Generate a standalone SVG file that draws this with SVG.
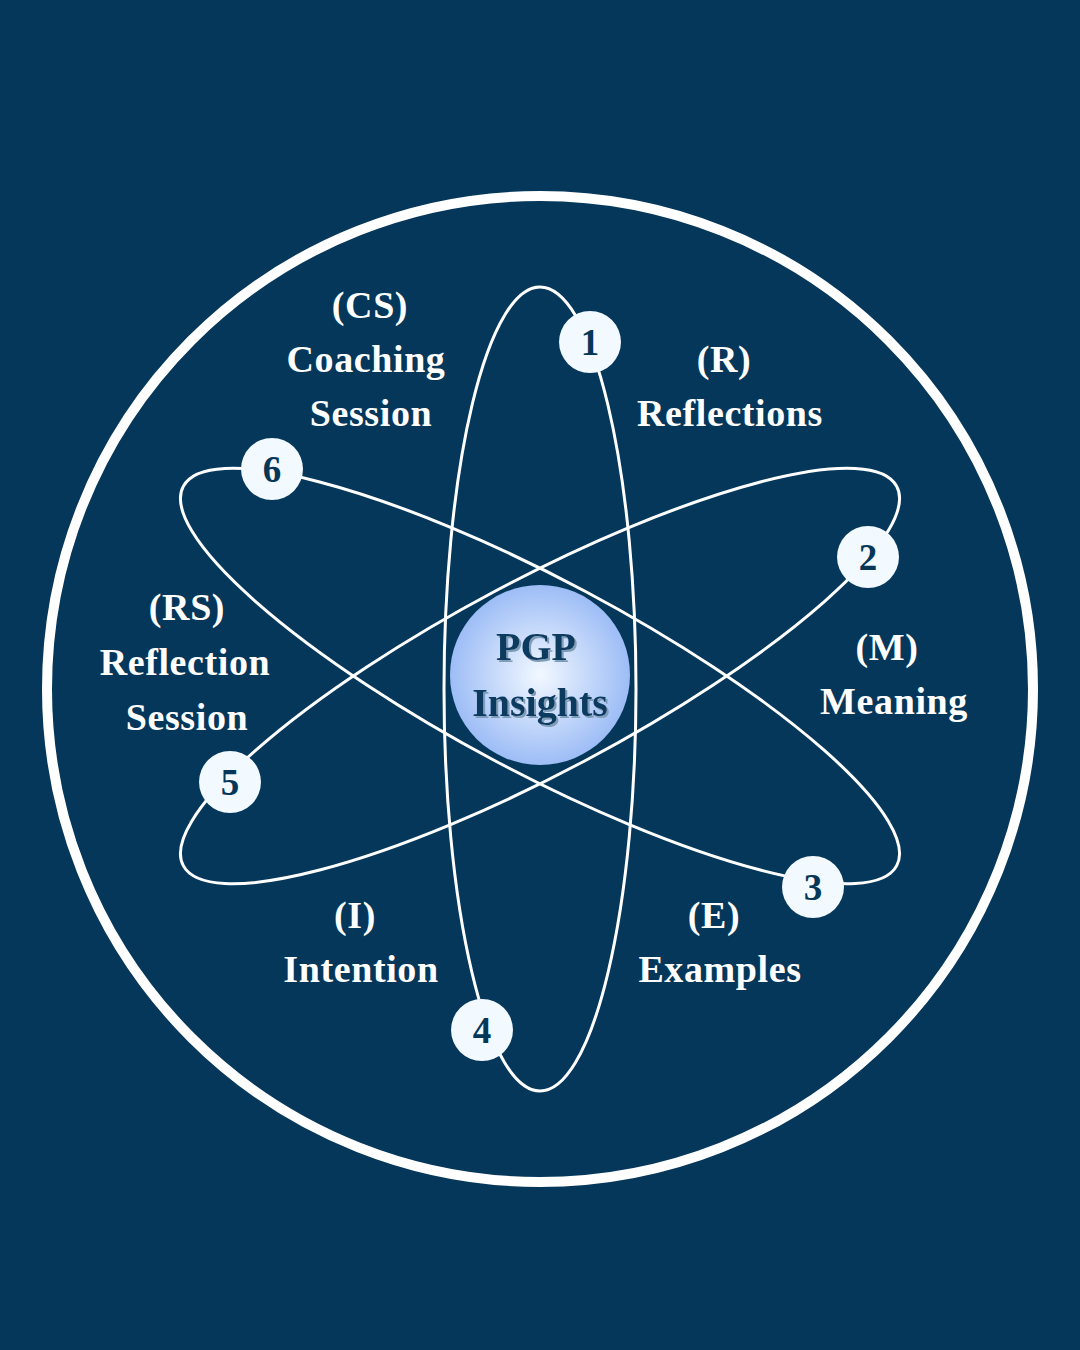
<svg xmlns="http://www.w3.org/2000/svg" width="1080" height="1350" viewBox="0 0 1080 1350">
<defs>
<radialGradient id="core" cx="50%" cy="50%" r="50%">
<stop offset="0" stop-color="#F2F8FF"/>
<stop offset="1" stop-color="#9DBDF6"/>
</radialGradient>
<filter id="sh" x="-10%" y="-10%" width="130%" height="130%">
<feDropShadow dx="2" dy="2" stdDeviation="0.6" flood-color="#7F9DB8" flood-opacity="1"/>
</filter>
</defs>
<style>
.orbit{fill:none;stroke:#FFFFFF;stroke-width:3}
.badge{fill:#F2F9FF}
.num{font-family:"Liberation Serif",serif;font-weight:bold;font-size:37px;fill:#053759;text-anchor:middle}
.lbl{font-family:"Liberation Serif",serif;font-weight:bold;font-size:38px;fill:#FFFFFF;text-anchor:middle;letter-spacing:0.6px}
.core{font-family:"Liberation Serif",serif;font-weight:bold;font-size:40px;fill:#0B3A5E;text-anchor:middle}
</style>
<rect width="1080" height="1350" fill="#05375B"/>
<circle cx="540" cy="689" r="493" fill="none" stroke="#FFFFFF" stroke-width="10"/>
<g id="connectors">
<ellipse class="orbit" cx="540" cy="689" rx="96" ry="402"/>
<ellipse class="orbit" cx="540" cy="676" rx="96" ry="404" transform="rotate(62 540 676)"/>
<ellipse class="orbit" cx="540" cy="676" rx="96" ry="404" transform="rotate(-62 540 676)"/>
</g>
<g id="center">
<circle cx="540" cy="675" r="90" fill="url(#core)"/>
<text class="core" x="536" y="660" filter="url(#sh)">PGP</text>
<text class="core" x="540" y="716" filter="url(#sh)">Insights</text>
</g>
<g id="n1"><circle class="badge" cx="590" cy="342" r="31"/><text class="num" x="590" y="355">1</text></g>
<g id="n2"><circle class="badge" cx="868" cy="557" r="31"/><text class="num" x="868" y="570">2</text></g>
<g id="n3"><circle class="badge" cx="813" cy="887" r="31"/><text class="num" x="813" y="900">3</text></g>
<g id="n4"><circle class="badge" cx="482" cy="1030" r="31"/><text class="num" x="482" y="1043">4</text></g>
<g id="n5"><circle class="badge" cx="230" cy="782" r="31"/><text class="num" x="230" y="795">5</text></g>
<g id="n6"><circle class="badge" cx="272" cy="469" r="31"/><text class="num" x="272" y="482">6</text></g>
<g id="label-cs">
<text class="lbl" x="370" y="318">(CS)</text>
<text class="lbl" x="366" y="372">Coaching</text>
<text class="lbl" x="371" y="426">Session</text>
</g>
<g id="label-r">
<text class="lbl" x="724" y="372">(R)</text>
<text class="lbl" x="730" y="426">Reflections</text>
</g>
<g id="label-rs">
<text class="lbl" x="187" y="620">(RS)</text>
<text class="lbl" x="185" y="675">Reflection</text>
<text class="lbl" x="187" y="730">Session</text>
</g>
<g id="label-m">
<text class="lbl" x="887" y="660">(M)</text>
<text class="lbl" x="894" y="714">Meaning</text>
</g>
<g id="label-i">
<text class="lbl" x="355" y="928">(I)</text>
<text class="lbl" x="361" y="982">Intention</text>
</g>
<g id="label-e">
<text class="lbl" x="714" y="928">(E)</text>
<text class="lbl" x="720" y="982">Examples</text>
</g>
</svg>
